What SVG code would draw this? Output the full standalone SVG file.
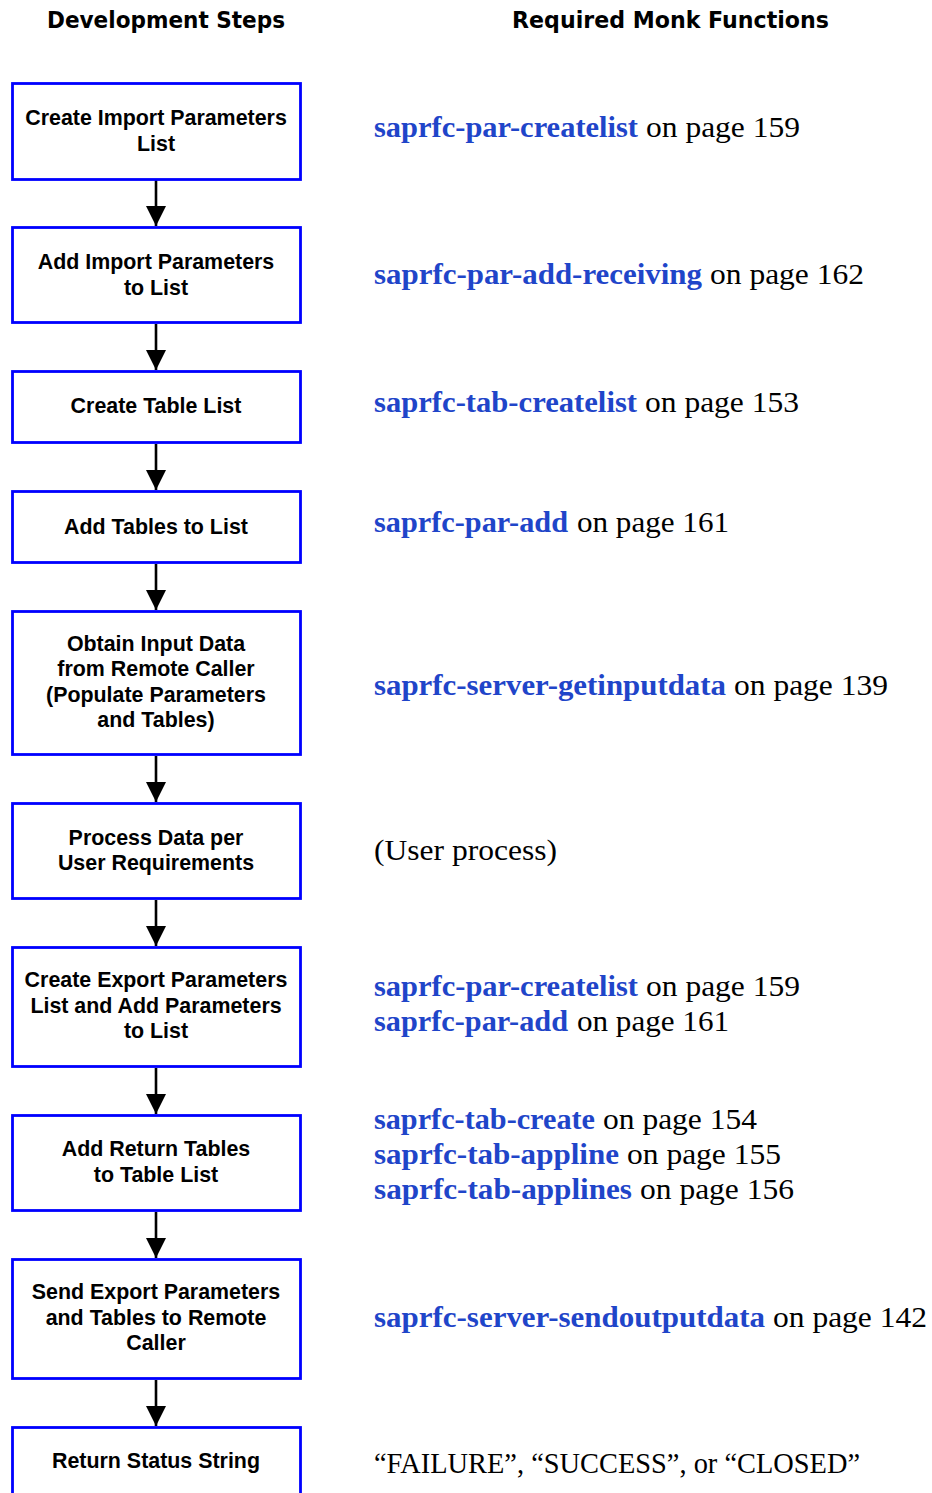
<svg xmlns="http://www.w3.org/2000/svg" width="932" height="1493" viewBox="0 0 932 1493">
<style>
.hd{font-family:"DejaVu Sans","Liberation Sans",sans-serif;font-weight:bold;font-size:23px;fill:#000}
.box{fill:#fff;stroke:#0000ff;stroke-width:2.8}
.bt{font-family:"Liberation Sans",Arial,sans-serif;font-weight:bold;font-size:21.4px;fill:#000;text-anchor:middle}
.fn{font-family:"Liberation Serif","Times New Roman",serif;font-weight:bold;font-size:29px;fill:#1f45c9}
.pg{font-family:"Liberation Serif","Times New Roman",serif;font-size:29px;fill:#000}
.ln{stroke:#000;stroke-width:2.6;fill:none}
</style>
<defs>
<marker id="ah" markerUnits="userSpaceOnUse" markerWidth="20" markerHeight="20" refX="20" refY="10" orient="auto" viewBox="0 0 20 20">
<path d="M0,0 L20,10 L0,20 Z" fill="#000"/>
</marker>
</defs>
<rect width="932" height="1493" fill="#fff"/>
<g id="headers">
<text class="hd" x="47" y="28" textLength="238" lengthAdjust="spacingAndGlyphs">Development Steps</text>
<text class="hd" x="512" y="28" textLength="317" lengthAdjust="spacingAndGlyphs">Required Monk Functions</text>
</g>
<g id="connectors">
<line class="ln" x1="156" y1="180" x2="156" y2="226" marker-end="url(#ah)"/>
<line class="ln" x1="156" y1="324" x2="156" y2="370" marker-end="url(#ah)"/>
<line class="ln" x1="156" y1="444" x2="156" y2="490" marker-end="url(#ah)"/>
<line class="ln" x1="156" y1="564" x2="156" y2="610" marker-end="url(#ah)"/>
<line class="ln" x1="156" y1="756" x2="156" y2="802" marker-end="url(#ah)"/>
<line class="ln" x1="156" y1="900" x2="156" y2="946" marker-end="url(#ah)"/>
<line class="ln" x1="156" y1="1068" x2="156" y2="1114" marker-end="url(#ah)"/>
<line class="ln" x1="156" y1="1212" x2="156" y2="1258" marker-end="url(#ah)"/>
<line class="ln" x1="156" y1="1380" x2="156" y2="1426" marker-end="url(#ah)"/>
</g>
<g id="n1"><rect class="box" x="12.5" y="83.5" width="288" height="96"/>
<text class="bt" x="156" y="125">Create Import Parameters</text><text class="bt" x="156" y="151">List</text></g>
<g id="n2"><rect class="box" x="12.5" y="227.5" width="288" height="95"/>
<text class="bt" x="156" y="269">Add Import Parameters</text><text class="bt" x="156" y="295">to List</text></g>
<g id="n3"><rect class="box" x="12.5" y="371.5" width="288" height="71"/>
<text class="bt" x="156" y="413">Create Table List</text></g>
<g id="n4"><rect class="box" x="12.5" y="491.5" width="288" height="71"/>
<text class="bt" x="156" y="534">Add Tables to List</text></g>
<g id="n5"><rect class="box" x="12.5" y="611.5" width="288" height="143"/>
<text class="bt" x="156" y="651">Obtain Input Data</text><text class="bt" x="156" y="676">from Remote Caller</text><text class="bt" x="156" y="702">(Populate Parameters</text><text class="bt" x="156" y="727">and Tables)</text></g>
<g id="n6"><rect class="box" x="12.5" y="803.5" width="288" height="95"/>
<text class="bt" x="156" y="845">Process Data per</text><text class="bt" x="156" y="870">User Requirements</text></g>
<g id="n7"><rect class="box" x="12.5" y="947.5" width="288" height="119"/>
<text class="bt" x="156" y="987">Create Export Parameters</text><text class="bt" x="156" y="1013">List and Add Parameters</text><text class="bt" x="156" y="1038">to List</text></g>
<g id="n8"><rect class="box" x="12.5" y="1115.5" width="288" height="95"/>
<text class="bt" x="156" y="1156">Add Return Tables</text><text class="bt" x="156" y="1182">to Table List</text></g>
<g id="n9"><rect class="box" x="12.5" y="1259.5" width="288" height="119"/>
<text class="bt" x="156" y="1299">Send Export Parameters</text><text class="bt" x="156" y="1325">and Tables to Remote</text><text class="bt" x="156" y="1350">Caller</text></g>
<g id="n10"><rect class="box" x="12.5" y="1427.5" width="288" height="100"/>
<text class="bt" x="156" y="1468">Return Status String</text></g>
<g id="functions">
<text class="fn" x="374" y="137" textLength="264" lengthAdjust="spacingAndGlyphs">saprfc-par-createlist</text>
<text class="pg" x="646" y="137" textLength="154" lengthAdjust="spacingAndGlyphs">on page 159</text>
<text class="fn" x="374" y="284" textLength="328" lengthAdjust="spacingAndGlyphs">saprfc-par-add-receiving</text>
<text class="pg" x="710" y="284" textLength="154" lengthAdjust="spacingAndGlyphs">on page 162</text>
<text class="fn" x="374" y="412" textLength="263" lengthAdjust="spacingAndGlyphs">saprfc-tab-createlist</text>
<text class="pg" x="645" y="412" textLength="154" lengthAdjust="spacingAndGlyphs">on page 153</text>
<text class="fn" x="374" y="532" textLength="194" lengthAdjust="spacingAndGlyphs">saprfc-par-add</text>
<text class="pg" x="577" y="532" textLength="152" lengthAdjust="spacingAndGlyphs">on page 161</text>
<text class="fn" x="374" y="695" textLength="352" lengthAdjust="spacingAndGlyphs">saprfc-server-getinputdata</text>
<text class="pg" x="734" y="695" textLength="154" lengthAdjust="spacingAndGlyphs">on page 139</text>
<text class="pg" x="374" y="860" textLength="183" lengthAdjust="spacingAndGlyphs">(User process)</text>
<text class="fn" x="374" y="996" textLength="264" lengthAdjust="spacingAndGlyphs">saprfc-par-createlist</text>
<text class="pg" x="646" y="996" textLength="154" lengthAdjust="spacingAndGlyphs">on page 159</text>
<text class="fn" x="374" y="1031" textLength="194" lengthAdjust="spacingAndGlyphs">saprfc-par-add</text>
<text class="pg" x="577" y="1031" textLength="152" lengthAdjust="spacingAndGlyphs">on page 161</text>
<text class="fn" x="374" y="1129" textLength="221" lengthAdjust="spacingAndGlyphs">saprfc-tab-create</text>
<text class="pg" x="603" y="1129" textLength="154" lengthAdjust="spacingAndGlyphs">on page 154</text>
<text class="fn" x="374" y="1164" textLength="245" lengthAdjust="spacingAndGlyphs">saprfc-tab-appline</text>
<text class="pg" x="627" y="1164" textLength="154" lengthAdjust="spacingAndGlyphs">on page 155</text>
<text class="fn" x="374" y="1199" textLength="258" lengthAdjust="spacingAndGlyphs">saprfc-tab-applines</text>
<text class="pg" x="640" y="1199" textLength="154" lengthAdjust="spacingAndGlyphs">on page 156</text>
<text class="fn" x="374" y="1327" textLength="391" lengthAdjust="spacingAndGlyphs">saprfc-server-sendoutputdata</text>
<text class="pg" x="773" y="1327" textLength="154" lengthAdjust="spacingAndGlyphs">on page 142</text>
<text class="pg" x="374" y="1473" textLength="486" lengthAdjust="spacingAndGlyphs">“FAILURE”, “SUCCESS”, or “CLOSED”</text>
</g>
</svg>
